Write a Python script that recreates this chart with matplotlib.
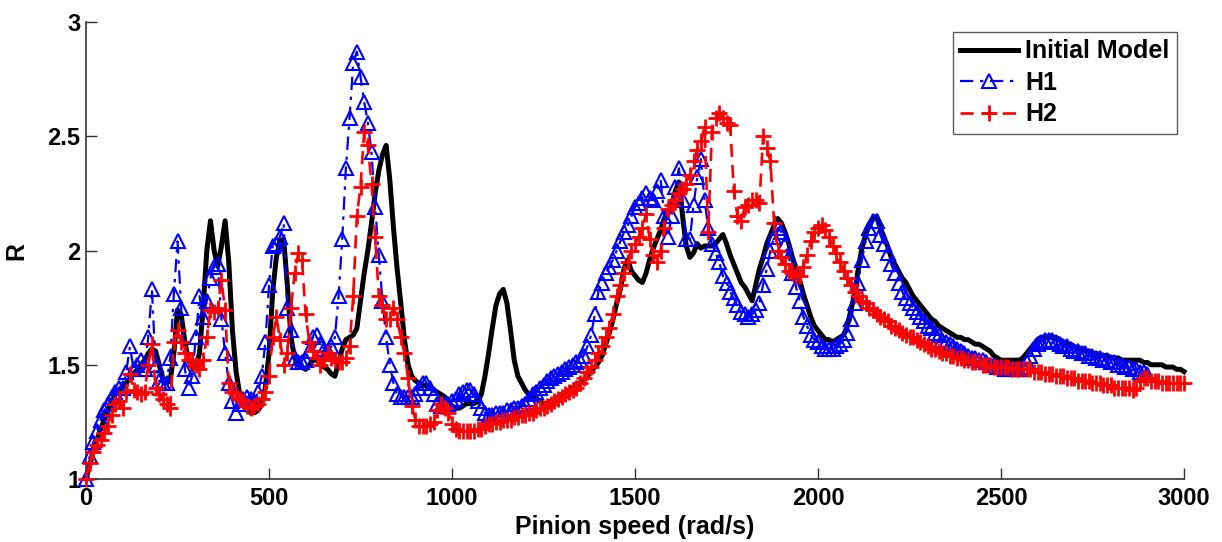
import numpy as np
import matplotlib
matplotlib.use("Agg")
import matplotlib.pyplot as plt

plt.rcParams['font.family'] = ['Liberation Sans', 'DejaVu Sans']
plt.rcParams['font.weight'] = 'bold'

# R values, every 10 rad/s
initial_model = [
    1.00, 1.06, 1.12, 1.17, 1.22, 1.26, 1.30, 1.34, 1.37, 1.39,
    1.40, 1.42, 1.44, 1.46, 1.48, 1.50, 1.52, 1.55, 1.57, 1.56,
    1.50, 1.44, 1.42, 1.43, 1.55, 1.74, 1.72, 1.60, 1.52, 1.49,
    1.49, 1.55, 1.75, 2.00, 2.13, 2.00, 1.93, 2.02, 2.13, 1.95,
    1.65, 1.47, 1.37, 1.32, 1.30, 1.29, 1.29, 1.30, 1.33, 1.40,
    1.55, 1.82, 1.97, 2.04, 2.05, 1.85, 1.62, 1.53, 1.50, 1.49,
    1.48, 1.50, 1.52, 1.52, 1.51, 1.49, 1.48, 1.46, 1.45, 1.51,
    1.57, 1.61, 1.62, 1.63, 1.66, 1.78, 1.90, 2.00, 2.12, 2.25,
    2.35, 2.42, 2.46, 2.31, 2.10, 1.92, 1.77, 1.61, 1.50, 1.45,
    1.43, 1.42, 1.41, 1.41, 1.40, 1.39, 1.38, 1.37, 1.36, 1.34,
    1.32, 1.31, 1.31, 1.32, 1.33, 1.33, 1.33, 1.34, 1.37, 1.45,
    1.55, 1.66, 1.76, 1.81, 1.83, 1.77, 1.65, 1.52, 1.45, 1.42,
    1.39, 1.37, 1.36, 1.35, 1.34, 1.33, 1.33, 1.34, 1.35, 1.36,
    1.37, 1.38, 1.39, 1.40, 1.41, 1.42, 1.43, 1.45, 1.47, 1.49,
    1.51, 1.54, 1.59, 1.64, 1.70, 1.77, 1.83, 1.92, 1.96, 1.91,
    1.89, 1.87, 1.86, 1.90, 1.96, 2.01, 2.05, 2.09, 2.14, 2.17,
    2.20, 2.26, 2.30, 2.15, 2.02, 1.97, 1.99, 2.03, 2.01, 2.02,
    2.02, 2.02, 2.03, 2.05, 2.07, 2.03, 1.98, 1.94, 1.90, 1.86,
    1.84, 1.81, 1.78, 1.85, 1.92, 1.97, 2.03, 2.07, 2.11, 2.14,
    2.12, 2.08, 2.03, 1.97, 1.92, 1.87, 1.81, 1.76, 1.71, 1.67,
    1.65, 1.63, 1.61, 1.61, 1.60, 1.61, 1.62, 1.63, 1.67, 1.74,
    1.81, 1.92, 2.01, 2.07, 2.11, 2.14, 2.15, 2.10, 2.06, 2.02,
    1.97, 1.94, 1.91, 1.88, 1.86, 1.83, 1.80, 1.78, 1.76, 1.74,
    1.72, 1.70, 1.69, 1.67, 1.66, 1.65, 1.64, 1.63, 1.62, 1.62,
    1.61, 1.61, 1.60, 1.59, 1.59, 1.58, 1.57, 1.56, 1.54, 1.53,
    1.52, 1.52, 1.52, 1.52, 1.52, 1.52, 1.53, 1.55, 1.57, 1.59,
    1.61, 1.62, 1.62, 1.62, 1.62, 1.62, 1.61, 1.60, 1.59, 1.59,
    1.58, 1.57, 1.57, 1.56, 1.56, 1.55, 1.55, 1.54, 1.54, 1.54,
    1.53, 1.53, 1.53, 1.52, 1.52, 1.52, 1.52, 1.52, 1.52, 1.51,
    1.51, 1.50, 1.50, 1.50, 1.50, 1.49, 1.49, 1.49, 1.48, 1.48,
    1.47,
]

h1 = [
    1.00, 1.10, 1.16, 1.21, 1.26, 1.30, 1.33, 1.36, 1.38, 1.40,
    1.40, 1.47, 1.58, 1.48, 1.50, 1.52, 1.48, 1.62, 1.83, 1.50,
    1.43, 1.42, 1.42, 1.53, 1.81, 2.04, 1.75, 1.48, 1.40, 1.45,
    1.62, 1.80, 1.71, 1.78, 1.88, 1.93, 1.94, 1.70, 1.55, 1.42,
    1.34, 1.29, 1.33, 1.35, 1.36, 1.35, 1.34, 1.38, 1.45, 1.60,
    1.85, 2.02, 2.03, 2.06, 2.12, 1.75, 1.65, 1.53, 1.51, 1.51,
    1.52, 1.56, 1.62, 1.63, 1.59, 1.57, 1.56, 1.58, 1.62, 1.80,
    2.05, 2.36, 2.58, 2.82, 2.87, 2.76, 2.65, 2.56, 2.43, 2.19,
    1.98, 1.78, 1.62, 1.50, 1.42, 1.37, 1.36, 1.36, 1.36, 1.36,
    1.37, 1.40, 1.42, 1.42, 1.40, 1.37, 1.33, 1.32, 1.33, 1.33,
    1.34, 1.35, 1.37, 1.38, 1.39, 1.39, 1.37, 1.34, 1.31, 1.29,
    1.28, 1.28, 1.29, 1.29, 1.29, 1.30, 1.30, 1.31, 1.31, 1.32,
    1.33, 1.35, 1.37, 1.38, 1.40, 1.41, 1.43, 1.44, 1.45, 1.46,
    1.47, 1.48, 1.49, 1.50, 1.51, 1.52, 1.54, 1.58, 1.63, 1.72,
    1.82, 1.86, 1.90, 1.93, 1.96, 2.00, 2.04, 2.08, 2.11, 2.15,
    2.19, 2.21, 2.23, 2.25, 2.23, 2.22, 2.26, 2.31, 2.15, 2.06,
    2.15, 2.28, 2.36, 2.22, 2.05, 2.05, 2.20, 2.32, 2.40, 2.22,
    2.10, 2.03, 1.99, 1.95, 1.89, 1.86, 1.82, 1.79, 1.76, 1.73,
    1.72, 1.71, 1.72, 1.74, 1.77, 1.85, 1.92, 2.00, 2.06, 2.10,
    2.08, 2.03, 1.97, 1.90, 1.84, 1.78, 1.71, 1.67, 1.63, 1.61,
    1.60, 1.58, 1.57, 1.57, 1.57, 1.58, 1.59, 1.61, 1.64, 1.70,
    1.77, 1.86, 1.96, 2.04, 2.10, 2.13, 2.13, 2.07, 2.03, 1.99,
    1.94, 1.90, 1.86, 1.82, 1.79, 1.77, 1.75, 1.73, 1.71, 1.69,
    1.67, 1.66, 1.64, 1.63, 1.61, 1.60, 1.59, 1.58, 1.57, 1.56,
    1.55, 1.54, 1.53, 1.53, 1.52, 1.52, 1.51, 1.50, 1.50, 1.49,
    1.49, 1.48, 1.48, 1.48, 1.48, 1.48, 1.49, 1.51, 1.54, 1.57,
    1.59, 1.60, 1.61, 1.61, 1.61, 1.60, 1.59, 1.58, 1.58, 1.57,
    1.56, 1.56, 1.55, 1.55, 1.54, 1.54, 1.53, 1.53, 1.52, 1.52,
    1.51, 1.51, 1.50, 1.50, 1.49, 1.49, 1.48, 1.48, 1.47, 1.47,
    1.46,
]

h2 = [
    1.00, 1.07, 1.12, 1.15, 1.17, 1.20, 1.23, 1.28, 1.33, 1.34,
    1.31, 1.38, 1.46, 1.39, 1.38, 1.37, 1.38, 1.50, 1.59, 1.40,
    1.37, 1.35, 1.33, 1.31, 1.60, 1.65, 1.60, 1.55, 1.52, 1.52,
    1.50, 1.48, 1.52, 1.62, 1.74, 1.73, 1.75, 1.87, 1.74, 1.42,
    1.38, 1.37, 1.35, 1.34, 1.32, 1.31, 1.32, 1.33, 1.35, 1.38,
    1.45, 1.62, 1.71, 1.61, 1.50, 1.55, 1.75, 1.90, 1.99, 1.96,
    1.72, 1.60, 1.56, 1.53, 1.50, 1.52, 1.55, 1.53, 1.52, 1.51,
    1.51, 1.53, 1.58, 1.80, 2.15, 2.28, 2.52, 2.46, 2.29, 2.06,
    1.80, 1.76, 1.70, 1.70, 1.75, 1.70, 1.62, 1.55, 1.44, 1.32,
    1.26, 1.23, 1.23, 1.23, 1.24, 1.25, 1.30, 1.33, 1.31, 1.29,
    1.24, 1.22, 1.21, 1.21, 1.21, 1.21, 1.21, 1.22, 1.22, 1.23,
    1.24, 1.24, 1.25, 1.25, 1.26, 1.26, 1.26, 1.27, 1.27, 1.28,
    1.28, 1.29, 1.29, 1.30, 1.31, 1.31, 1.32, 1.33, 1.34, 1.35,
    1.36, 1.37, 1.38, 1.39, 1.40, 1.42, 1.44, 1.47, 1.49, 1.52,
    1.55, 1.58, 1.62, 1.66, 1.72, 1.80, 1.85, 1.90, 1.95, 2.00,
    2.03, 2.06, 2.10, 2.16, 2.05, 1.98, 1.95, 2.00, 2.10, 2.18,
    2.20, 2.22, 2.25, 2.27, 2.29, 2.33, 2.39, 2.44, 2.48, 2.54,
    2.08, 2.52, 2.58, 2.60, 2.58, 2.56, 2.55, 2.26, 2.15, 2.13,
    2.19, 2.20, 2.22, 2.22, 2.21, 2.50, 2.45, 2.39, 2.12, 2.00,
    1.97, 1.94, 1.91, 1.90, 1.89, 1.89, 1.93, 1.98, 2.04, 2.08,
    2.10, 2.11, 2.09, 2.06, 2.02, 1.99, 1.95, 1.91, 1.88, 1.85,
    1.82, 1.80, 1.78, 1.77, 1.75, 1.74, 1.72, 1.71, 1.70, 1.69,
    1.67, 1.66, 1.65, 1.64, 1.63, 1.62, 1.62, 1.61, 1.60, 1.59,
    1.58, 1.57, 1.57, 1.56, 1.55, 1.55, 1.54, 1.54, 1.53, 1.53,
    1.52, 1.52, 1.51, 1.51, 1.51, 1.50, 1.50, 1.50, 1.49, 1.49,
    1.49, 1.49, 1.49, 1.48, 1.48, 1.48, 1.48, 1.48, 1.48, 1.47,
    1.47, 1.47, 1.46, 1.46, 1.46, 1.45, 1.45, 1.45, 1.44, 1.44,
    1.44, 1.43, 1.43, 1.43, 1.43, 1.42, 1.42, 1.42, 1.41, 1.41,
    1.41, 1.40, 1.40, 1.40, 1.40, 1.40, 1.39, 1.40, 1.43, 1.44,
    1.44, 1.43, 1.43, 1.43, 1.42, 1.42, 1.42, 1.42, 1.42, 1.42,
    1.42,
]

speed_step = 10
x_ticks = [0, 500, 1000, 1500, 2000, 2500, 3000]
y_ticks = [1, 1.5, 2, 2.5, 3]
y_tick_labels = ['1', '1.5', '2', '2.5', '3']

speed_init = np.arange(len(initial_model)) * speed_step
speed_h1 = np.arange(len(h1)) * speed_step
speed_h2 = np.arange(len(h2)) * speed_step

fig = plt.figure(figsize=(12.22, 5.42), dpi=100)
ax = fig.add_axes([0.0704, 0.1162, 0.8985, 0.8432])

ax.plot(speed_init, initial_model, color='black', lw=3.6, label='Initial Model',
        clip_on=False, zorder=2)
ax.plot(speed_h1, h1, color='blue', lw=1.6, ls=(0, (6, 3, 1.5, 3)), marker='^',
        ms=9.5, mfc='none', mec='blue', mew=1.5, label='H1', clip_on=False, zorder=3)
ax.plot(speed_h2, h2, color='red', lw=1.9, ls=(0, (5, 3)), marker='+',
        ms=11, mew=2.0, label='H2', clip_on=False, zorder=4)

ax.set_xlim(0, 3000)
ax.set_ylim(1, 3)
ax.set_xticks(x_ticks)
ax.set_xticklabels([str(t) for t in x_ticks])
ax.set_yticks(y_ticks)
ax.set_yticklabels(y_tick_labels)

for side in ['top', 'right']:
    ax.spines[side].set_visible(False)
for side in ['left', 'bottom']:
    ax.spines[side].set_color('#333333')
    ax.spines[side].set_linewidth(1.2)

ax.tick_params(direction='in', length=8, width=1.0, color='#333333',
               labelsize=17)
ax.tick_params(axis='x', pad=6)
ax.tick_params(axis='y', pad=4)
for lab in ax.get_xticklabels() + ax.get_yticklabels():
    lab.set_fontweight('bold')

ax.set_xlabel('Pinion speed (rad/s)', fontsize=18, fontweight='bold', labelpad=3)
ax.set_ylabel('R', fontsize=18, fontweight='bold', labelpad=14)

leg = ax.legend(loc='upper right', bbox_to_anchor=(0.963, 0.941),
                bbox_transform=fig.transFigure, fontsize=18, frameon=True,
                fancybox=False, handlelength=2.3, handletextpad=0.3,
                borderpad=0.3, labelspacing=0.3, borderaxespad=0)
leg.get_frame().set_edgecolor('#333333')
leg.get_frame().set_linewidth(1.0)
for t in leg.get_texts():
    t.set_fontweight('bold')

fig.savefig('out.png', dpi=100)
